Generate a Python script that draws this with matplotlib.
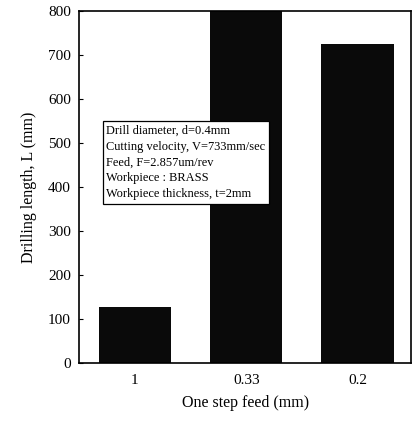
import matplotlib.pyplot as plt

plt.rcParams['font.family'] = ['Liberation Serif', 'DejaVu Serif']

feeds = ['1', '0.33', '0.2']
lengths = [128, 830, 725]
y_ticks = [0, 100, 200, 300, 400, 500, 600, 700, 800]

note = ('Drill diameter, d=0.4mm\n'
        'Cutting velocity, V=733mm/sec\n'
        'Feed, F=2.857um/rev\n'
        'Workpiece : BRASS\n'
        'Workpiece thickness, t=2mm')

fig = plt.figure(figsize=(4.12, 4.22), dpi=100)
ax = fig.add_axes([0.192, 0.140, 0.806, 0.834])

pos = range(len(feeds))
ax.bar(pos, lengths, width=0.65, color='#0a0a0a', zorder=2)

ax.set_xlim(-0.5, 2.48)
ax.set_ylim(0, 800)
ax.set_yticks(y_ticks)
ax.set_xticks(list(pos))
ax.set_xticklabels(feeds)
ax.tick_params(axis='x', length=0, labelsize=11, pad=8)
ax.tick_params(axis='y', direction='in', length=3, labelsize=11, pad=6)

for s in ax.spines.values():
    s.set_linewidth(1.2)

ax.set_ylabel('Drilling length, L (mm)', fontsize=11.5, labelpad=8)
ax.set_xlabel('One step feed (mm)', fontsize=11.5, labelpad=6)

# condition box sits over the first two bars
ax.text(-0.255, 541, note, fontsize=8.9, va='top', ha='left', linespacing=1.42,
        zorder=5,
        bbox=dict(boxstyle='square,pad=0.3', facecolor='white',
                  edgecolor='black', linewidth=0.9))

fig.savefig('out.png', dpi=100)
